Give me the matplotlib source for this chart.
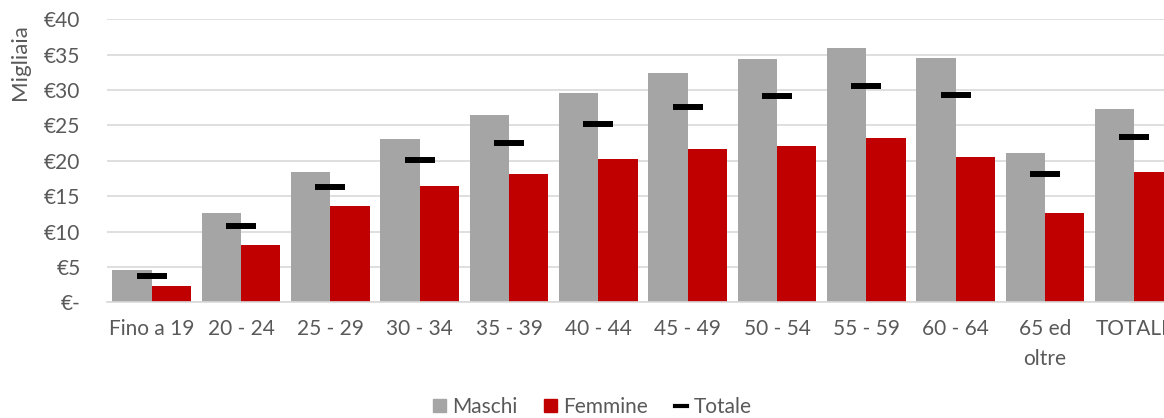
import numpy as np
import matplotlib
matplotlib.use('Agg')
import matplotlib.pyplot as plt
from matplotlib.lines import Line2D
from matplotlib.patches import Patch

plt.rcParams['font.family'] = ['Lato', 'DejaVu Sans']

categories = ['Fino a 19', '20 - 24', '25 - 29', '30 - 34', '35 - 39', '40 - 44',
              '45 - 49', '50 - 54', '55 - 59', '60 - 64', '65 ed\noltre', 'TOTALE']
maschi = [4.6, 12.6, 18.4, 23.1, 26.5, 29.6, 32.4, 34.4, 35.9, 34.6, 21.1, 27.3]
femmine = [2.3, 8.1, 13.6, 16.4, 18.1, 20.2, 21.7, 22.1, 23.2, 20.6, 12.6, 18.4]
totale = [3.7, 10.8, 16.3, 20.1, 22.5, 25.2, 27.6, 29.1, 30.6, 29.3, 18.2, 23.4]
yticks = [0, 5, 10, 15, 20, 25, 30, 35, 40]
ytick_labels = ['€-', '€5', '€10', '€15', '€20', '€25', '€30', '€35', '€40']

grey = '#a5a5a5'
red = '#c00000'
text_col = '#595959'

fig = plt.figure(figsize=(11.64, 4.18), dpi=100)
ax = fig.add_axes([0.0919, 0.2768, 0.921, 0.677])

x = np.arange(len(categories))
w = 0.44
ax.bar(x - w / 2, maschi, width=w, color=grey, zorder=2)
ax.bar(x + w / 2, femmine, width=w, color=red, zorder=2)
ax.plot(x, totale, linestyle='none', marker='_', markersize=21, markeredgewidth=4.3,
        color='black', zorder=3)

ax.set_xlim(-0.5, len(categories) - 0.5)
ax.set_ylim(0, 40)
ax.set_yticks(yticks)
ax.set_yticklabels(ytick_labels)
ax.set_xticks(x)
ax.set_xticklabels(categories, linespacing=1.6, va='top')
ax.tick_params(axis='both', length=0, labelsize=15, colors=text_col)
ax.tick_params(axis='x', pad=12)
ax.tick_params(axis='y', pad=19)
ax.grid(axis='y', color='#d9d9d9', linewidth=1.2, zorder=0)
for s in ['top', 'right', 'left']:
    ax.spines[s].set_visible(False)
ax.spines['bottom'].set_color('#d9d9d9')
ax.spines['bottom'].set_linewidth(1.2)

fig.text(20 / 1164, 1 - 62 / 418, 'Migliaia', rotation=90, ha='center', va='center',
         fontsize=16, color=text_col)

handles = [Patch(color=grey, label='Maschi'),
           Patch(color=red, label='Femmine'),
           Line2D([], [], color='black', linewidth=3, label='Totale')]
fig.legend(handles=handles, loc='center', bbox_to_anchor=(0.509, 1 - 407 / 418), ncol=3,
           frameon=False, fontsize=15, labelcolor=text_col, handlelength=0.6,
           handleheight=0.6, handletextpad=0.3, columnspacing=1.3)

fig.savefig('out.png', dpi=100)
